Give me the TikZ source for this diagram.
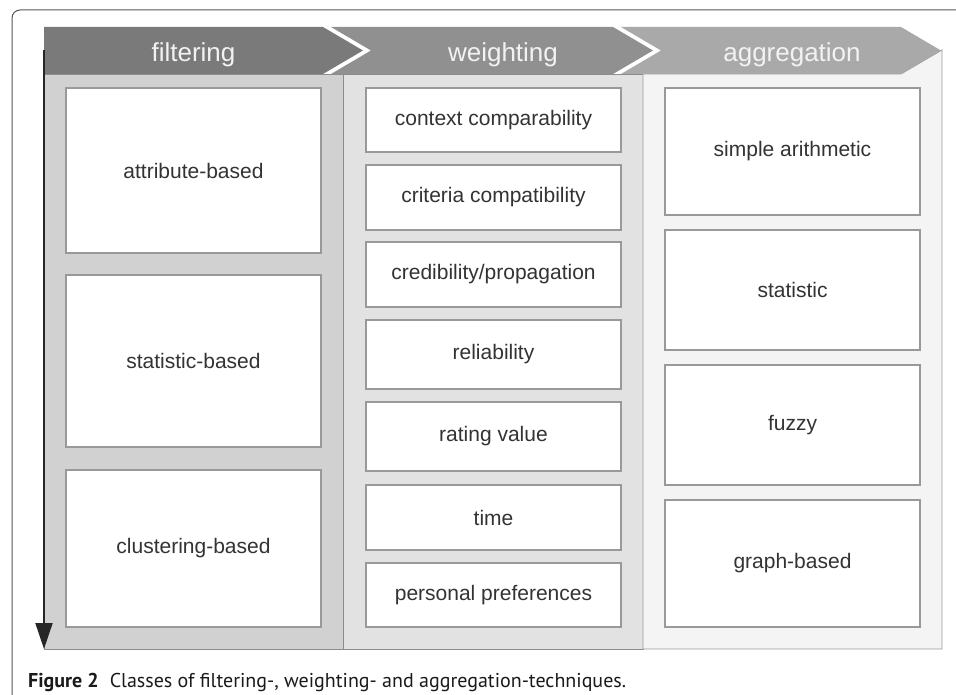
\documentclass[tikz,border=0pt]{standalone}
\usepackage{fontspec}
\setmainfont{Liberation Sans}
\newfontfamily\capfont{PT Sans}
\usetikzlibrary{arrows.meta}

\definecolor{chevA}{HTML}{7A7A7A}
\definecolor{chevB}{HTML}{909090}
\definecolor{chevC}{HTML}{A9A9A9}
\definecolor{panelA}{HTML}{D1D1D1}
\definecolor{panelB}{HTML}{E2E2E2}
\definecolor{panelC}{HTML}{F4F4F4}
\definecolor{panelline}{HTML}{8C8C8C}
\definecolor{boxline}{HTML}{999999}
\definecolor{boxtext}{HTML}{333333}
\definecolor{headtext}{HTML}{F2F2F2}
\definecolor{framecol}{HTML}{555555}
\definecolor{captext}{HTML}{1A1A1A}

\tikzset{
  headlabel/.style={anchor=base, text=headtext, inner sep=0pt,
    font=\fontsize{26}{30}\selectfont},
  panel/.style={draw=panelline, line width=0.8pt},
  techbox/.style={draw=boxline, fill=white, line width=1.2pt, inner sep=0pt,
    minimum width=255pt, text=boxtext, font=\fontsize{21}{25}\selectfont},
}

\begin{document}
\begin{tikzpicture}[x=1pt, y=-1pt]
\useasboundingbox (0,0) rectangle (956,695);

% outer frame of the figure
\draw[framecol, line width=1pt, rounded corners=8pt] (12,700) -- (12,10) -- (960,10);

% column panels
\draw[panel, fill=panelA] (44,74) rectangle (343,649);
\draw[panel, fill=panelB] (343,74) rectangle (643,649);
\draw[panel, draw=boxline, fill=panelC] (643,74) -- (901,74) -- (942,50) -- (942,649) -- (643,649) -- cycle;

% header chevrons
\fill[chevA] (44,27) -- (323,27) -- (363,50.5) -- (323,74) -- (44,74) -- cycle;
\fill[chevB] (331,27) -- (613,27) -- (653,50.5) -- (613,74) -- (331,74) -- (371,50.5) -- cycle;
\fill[chevC] (621,27) -- (901,27) -- (941,50.5) -- (901,74) -- (621,74) -- (661,50.5) -- cycle;

\node[headlabel] (hfilt) at (193.5,61.5) {filtering};
\node[headlabel] (hweigh) at (503,61.5) {weighting};
\node[headlabel] (haggr) at (792,61.5) {aggregation};

% filtering techniques
\node[techbox, minimum height=165pt] (f1) at (193.5,170.5) {attribute-based};
\node[techbox, minimum height=172pt] (f2) at (193.5,361) {statistic-based};
\node[techbox, minimum height=157pt] (f3) at (193.5,548.5) {clustering-based};

% weighting techniques
\node[techbox, minimum height=64pt] (w1) at (493.5,120) {context comparability};
\node[techbox, minimum height=65pt] (w2) at (493.5,197.5) {criteria compatibility};
\node[techbox, minimum height=65pt] (w3) at (493.5,274.5) {credibility/propagation};
\node[techbox, minimum height=69pt] (w4) at (493.5,354.5) {reliability};
\node[techbox, minimum height=69pt] (w5) at (493.5,436.5) {rating value};
\node[techbox, minimum height=65pt] (w6) at (493.5,517.5) {time};
\node[techbox, minimum height=64pt] (w7) at (493.5,595) {personal preferences};

% aggregation techniques
\node[techbox, minimum height=127pt] (a1) at (792.5,151.5) {simple arithmetic};
\node[techbox, minimum height=120pt] (a2) at (792.5,290) {statistic};
\node[techbox, minimum height=120pt] (a3) at (792.5,425) {fuzzy};
\node[techbox, minimum height=127pt] (a4) at (792.5,563.5) {graph-based};

% process direction arrow
\coordinate (arrtop) at (44,50);
\coordinate (arrend) at (44,649);
\draw[line width=2pt, color=black!85, -{Triangle[length=26pt, width=17pt]}] (arrtop) -- (arrend);

% caption
\node[anchor=base west, inner sep=0pt, text=captext, font=\capfont\fontsize{20}{24}\selectfont] (cap) at (28,687)
  {\textbf{Figure 2}\hspace{0.55em}Classes of filtering\mbox{-}\mbox{,} weighting- and aggregation-techniques.};
\end{tikzpicture}
\end{document}
